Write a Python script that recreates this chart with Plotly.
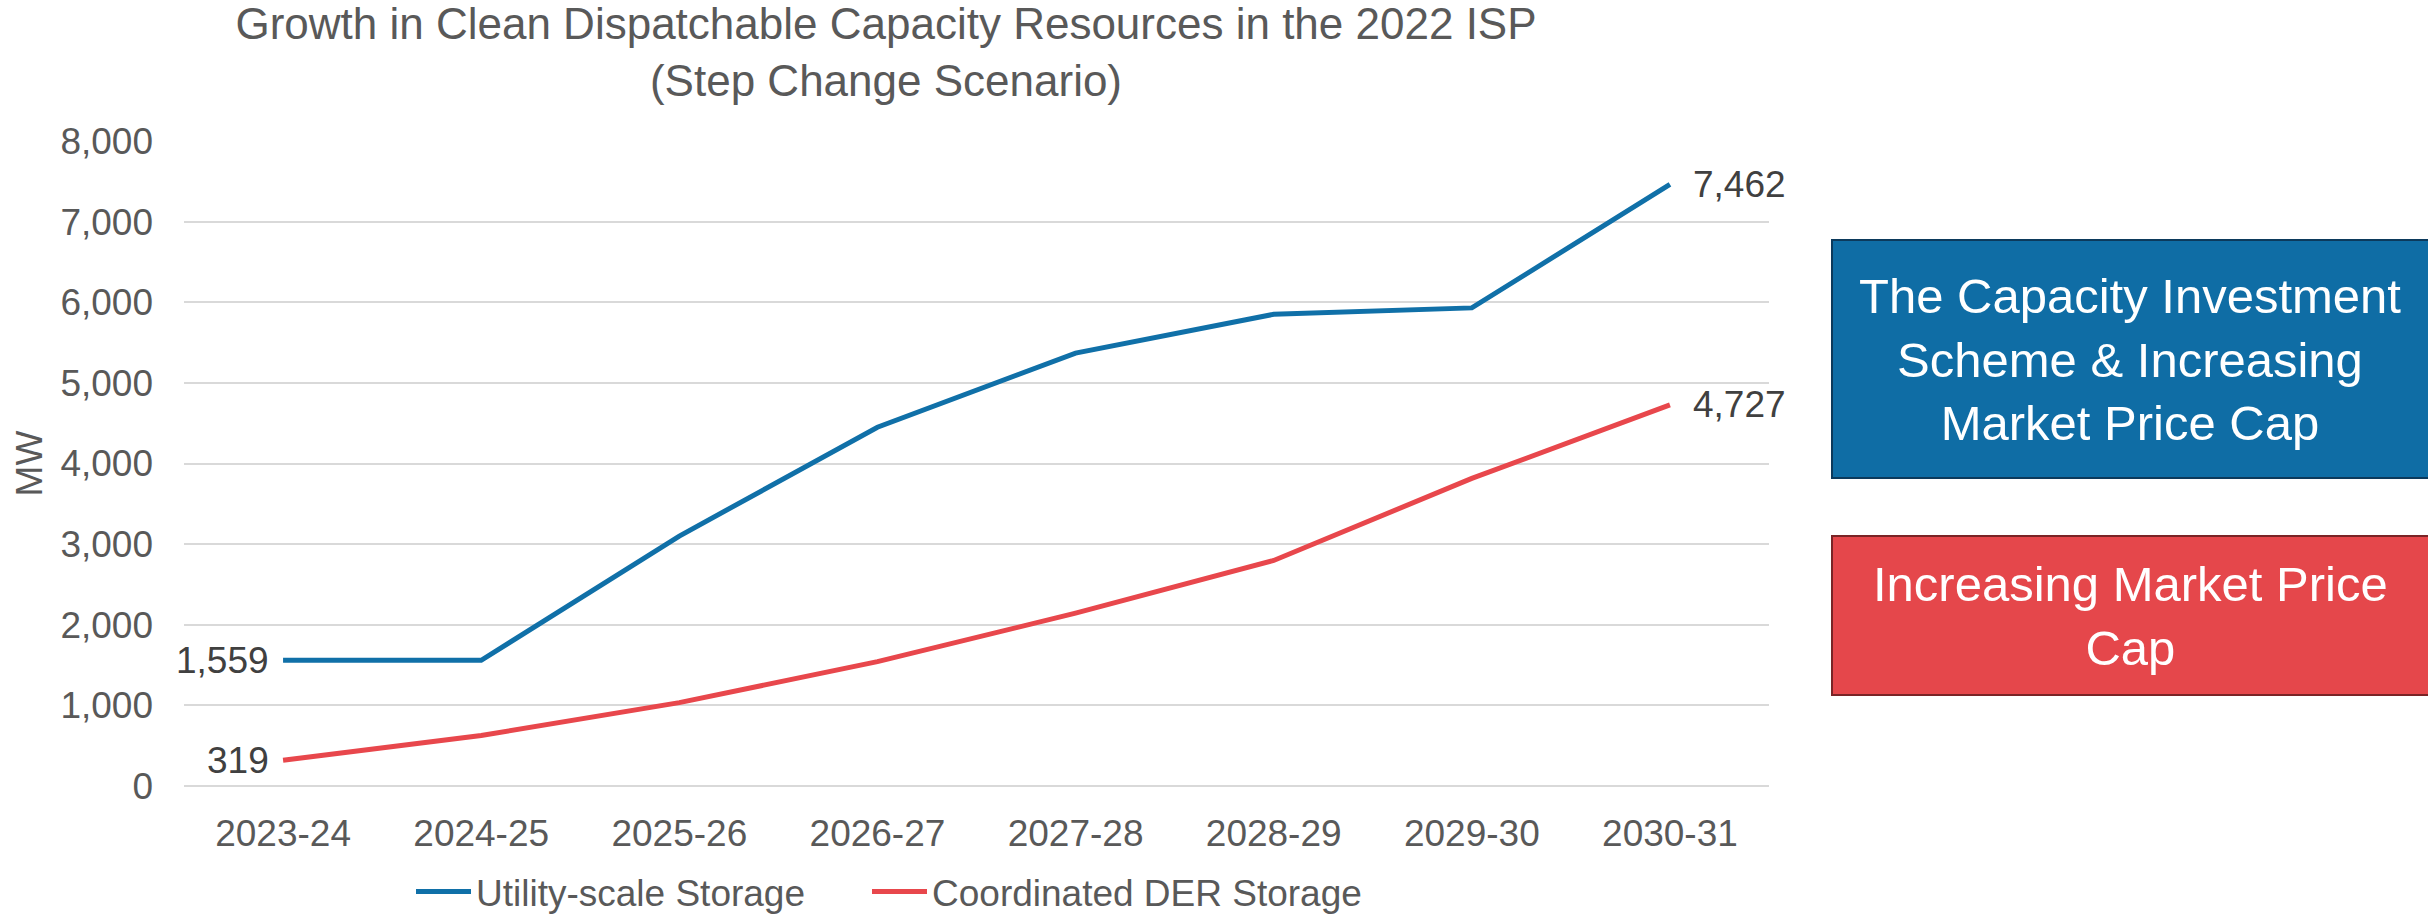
import plotly.graph_objects as go

# ---------------- data ----------------
categories = ["2023-24", "2024-25", "2025-26", "2026-27", "2027-28", "2028-29", "2029-30", "2030-31"]
utility_scale = [1559, 1559, 3100, 4450, 5370, 5850, 5930, 7462]
coordinated_der = [319, 626, 1034, 1543, 2144, 2797, 3815, 4727]
series_names = ["Utility-scale Storage", "Coordinated DER Storage"]
y_tick_values = [0, 1000, 2000, 3000, 4000, 5000, 6000, 7000, 8000]
title_lines = ["Growth in Clean Dispatchable Capacity Resources in the 2022 ISP", "(Step Change Scenario)"]
y_axis_title = "MW"
box_texts = ["The Capacity Investment<br>Scheme & Increasing<br>Market Price Cap",
             "Increasing Market Price<br>Cap"]

# ---------------- style / layout constants ----------------
W, H = 2428, 915
PL, PR, PT, PB = 184, 1769, 141, 786          # plot area in px
FONT = "Liberation Sans, Arial, sans-serif"
BLUE = "#1070A8"
RED = "#E8474C"
BOX_BLUE = "#0F6DA5"
BOX_RED = "#E5474B"
GRID = "#D9D9D9"
TXT = "#595959"
LBL = "#404040"


def px_x(px):
    return (px - PL) / (PR - PL)


def px_y(py):
    return (PB - py) / (PB - PT)


fig = go.Figure()
fig.add_trace(go.Scatter(x=categories, y=utility_scale, mode="lines", name=series_names[0],
                         line=dict(color=BLUE, width=5), hoverinfo="x+y", legend="legend",
                         showlegend=True))
fig.add_trace(go.Scatter(x=categories, y=coordinated_der, mode="lines", name=series_names[1],
                         line=dict(color=RED, width=5), hoverinfo="x+y", legend="legend2",
                         showlegend=True))

annotations = []
# data labels on first and last points
for vals in (utility_scale, coordinated_der):
    annotations.append(dict(x=categories[0], y=vals[0], xref="x", yref="y", text=f"{vals[0]:,}",
                            showarrow=False, xanchor="right", yanchor="middle", xshift=-12,
                            font=dict(family=FONT, size=37, color=LBL)))
    annotations.append(dict(x=categories[-1], y=vals[-1], xref="x", yref="y", text=f"{vals[-1]:,}",
                            showarrow=False, xanchor="left", yanchor="middle", xshift=21,
                            font=dict(family=FONT, size=37, color=LBL)))

# side boxes
boxes = [(1832, 240, 2440, 478, BOX_BLUE, "#0C3A5C"), (1832, 536, 2440, 695, BOX_RED, "#7A2426")]
shapes = []
for (x0, y0, x1, y1, fill, border), txt in zip(boxes, box_texts):
    shapes.append(dict(type="rect", xref="paper", yref="paper", x0=px_x(x0), x1=px_x(x1),
                       y0=px_y(y1), y1=px_y(y0), fillcolor=fill, line=dict(color=border, width=2)))
    annotations.append(dict(x=px_x(2130), y=px_y((y0 + y1) / 2), xref="paper", yref="paper",
                            text=txt, showarrow=False, xanchor="center", yanchor="middle",
                            align="center", font=dict(family=FONT, size=49, color="white")))

legend_common = dict(orientation="h", xref="container", yref="container", y=1 - 892 / H,
                     xanchor="left", yanchor="middle", font=dict(family=FONT, size=37, color=TXT),
                     itemwidth=55, bgcolor="rgba(0,0,0,0)")

fig.update_layout(
    width=W, height=H, autosize=False, showlegend=True,
    margin=dict(l=PL, r=W - PR, t=PT, b=H - PB, pad=0, autoexpand=False),
    paper_bgcolor="white", plot_bgcolor="white",
    font=dict(family=FONT, size=37, color=TXT),
    title=dict(text="<br>".join(title_lines), x=886 / W, xref="container", xanchor="center",
               y=1 - 39 / H, yref="container", yanchor="middle",
               font=dict(family=FONT, size=44, color=TXT)),
    xaxis=dict(type="category", range=[-0.5, len(categories) - 0.5], showgrid=False,
               showline=False, zeroline=False, ticks="", ticklabelstandoff=22,
               tickfont=dict(family=FONT, size=37, color=TXT)),
    yaxis=dict(range=[0, 8000], tickvals=y_tick_values, tickformat=",", showgrid=True,
               gridcolor=GRID, gridwidth=1.5, zeroline=True, zerolinecolor=GRID, zerolinewidth=1.5,
               showline=False, ticks="", ticklabelstandoff=30,
               tickfont=dict(family=FONT, size=37, color=TXT),
               title=dict(text=y_axis_title, standoff=6, font=dict(family=FONT, size=37, color=TXT))),
    legend=dict(x=411 / W, **legend_common),
    legend2=dict(x=867 / W, **legend_common),
    shapes=shapes,
    annotations=annotations,
)

fig.write_html("out.html")
